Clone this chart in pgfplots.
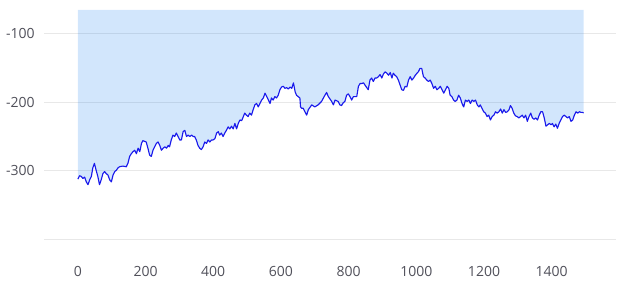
\documentclass[border=0pt]{standalone}
\usepackage{fontspec}
\setmainfont{Open Sans}
\usepackage{pgfplots}
\usepackage{pgfplotstable}
\pgfplotsset{compat=1.18}
\definecolor{linec}{RGB}{25,25,235}
\definecolor{fillc}{RGB}{30,130,240}
\definecolor{gridc}{RGB}{232,232,232}
\definecolor{labc}{RGB}{80,80,90}
\pgfplotstableread{
x y
0 -312
5 -307
10 -308
15 -311
20 -309
25 -316
30 -320
35 -313
40 -308
44 -296
49 -289
54 -299
59 -308
64 -320
69 -313
74 -304
79 -301
84 -304
89 -306
94 -313
99 -316
104 -306
109 -301
114 -299
118 -296
123 -294
133 -293
143 -294
148 -289
153 -279
158 -275
163 -272
168 -270
173 -275
178 -267
183 -272
188 -260
192 -256
202 -258
207 -267
212 -277
217 -279
222 -270
227 -265
232 -260
237 -258
242 -263
247 -270
252 -267
257 -265
262 -267
267 -263
271 -265
276 -255
281 -248
286 -250
291 -245
296 -250
301 -255
306 -255
311 -243
316 -241
321 -250
326 -248
331 -250
336 -248
341 -250
345 -250
350 -255
355 -263
360 -267
365 -269
370 -265
375 -258
380 -260
385 -255
390 -258
395 -255
400 -255
405 -253
410 -245
415 -243
419 -248
424 -245
429 -250
434 -245
439 -241
444 -236
449 -239
454 -235
459 -239
464 -231
469 -239
474 -231
479 -226
484 -227
489 -221
493 -216
498 -219
503 -221
508 -216
513 -219
518 -211
523 -204
528 -202
533 -207
538 -202
543 -197
548 -194
553 -187
558 -192
563 -197
568 -202
572 -194
577 -197
582 -192
587 -194
592 -190
597 -182
602 -178
607 -177
612 -180
617 -179
622 -181
627 -178
632 -180
637 -172
642 -185
646 -190
651 -192
656 -194
658 -207
661 -209
666 -209
671 -214
676 -219
681 -211
691 -204
700 -207
710 -204
720 -199
730 -190
735 -186
740 -192
750 -199
755 -204
760 -197
769 -199
774 -204
779 -205
784 -201
789 -199
794 -190
799 -188
804 -192
809 -197
814 -192
824 -192
829 -177
834 -173
839 -173
844 -172
848 -175
858 -182
863 -168
868 -165
873 -170
878 -165
883 -165
888 -163
893 -160
898 -165
903 -159
908 -156
913 -158
918 -161
923 -157
928 -165
932 -158
937 -161
942 -163
947 -168
952 -175
957 -182
962 -183
967 -177
972 -178
977 -168
982 -163
987 -168
992 -165
997 -161
1002 -158
1006 -156
1011 -151
1016 -151
1021 -163
1026 -165
1031 -168
1036 -170
1041 -168
1046 -173
1051 -180
1056 -177
1061 -182
1066 -180
1071 -177
1076 -182
1081 -187
1086 -182
1091 -177
1096 -180
1100 -190
1105 -192
1110 -197
1115 -199
1120 -197
1125 -190
1130 -194
1135 -202
1140 -207
1145 -197
1150 -199
1155 -197
1160 -202
1165 -197
1170 -199
1175 -197
1180 -204
1185 -207
1189 -204
1194 -209
1199 -214
1204 -216
1209 -221
1214 -219
1219 -226
1224 -221
1229 -219
1234 -214
1239 -216
1244 -214
1249 -210
1254 -216
1259 -211
1264 -215
1269 -214
1274 -211
1278 -205
1283 -209
1288 -216
1293 -220
1298 -221
1303 -223
1308 -221
1313 -219
1318 -223
1323 -219
1328 -228
1333 -221
1338 -216
1343 -223
1348 -225
1353 -223
1358 -226
1363 -219
1368 -214
1373 -214
1378 -223
1383 -235
1388 -233
1393 -231
1398 -233
1402 -231
1407 -236
1412 -232
1417 -238
1422 -231
1427 -226
1432 -221
1437 -219
1442 -221
1447 -223
1452 -221
1457 -228
1462 -226
1467 -219
1472 -214
1477 -216
1482 -214
1487 -215
1492 -215
1494 -216
}\datatable
\begin{document}
\begin{tikzpicture}
\path[use as bounding box] (0,0) rectangle (468pt,210.75pt);
\begin{axis}[
  at={(33pt,23.25pt)}, anchor=south west,
  scale only axis, width=429pt, height=180pt,
  xmin=-100, xmax=1590, ymin=-415, ymax=-66.1,
  axis line style={draw=none},
  major tick length=0pt,
  xtick={0,200,400,600,800,1000,1200,1400},
  ytick={-400,-300,-200,-100},
  yticklabels={,-300,-200,-100},
  ymajorgrids, major grid style={gridc, line width=0.75pt},
  /pgf/number format/assume math mode=true,
  /pgf/number format/1000 sep={},
  ticklabel style={font=\fontsize{10.5pt}{12pt}\selectfont, text=labc},
  yticklabel style={xshift=-3.5pt},
  xticklabel style={yshift=-8.5pt},
]
\addplot[fill=fillc, fill opacity=0.2, draw=none] table[x=x,y=y] {\datatable} |- (axis cs:0,-66.1) -- cycle;
\addplot[linec, line width=0.85pt, line join=round] table[x=x,y=y] {\datatable};
\end{axis}
\end{tikzpicture}
\end{document}
